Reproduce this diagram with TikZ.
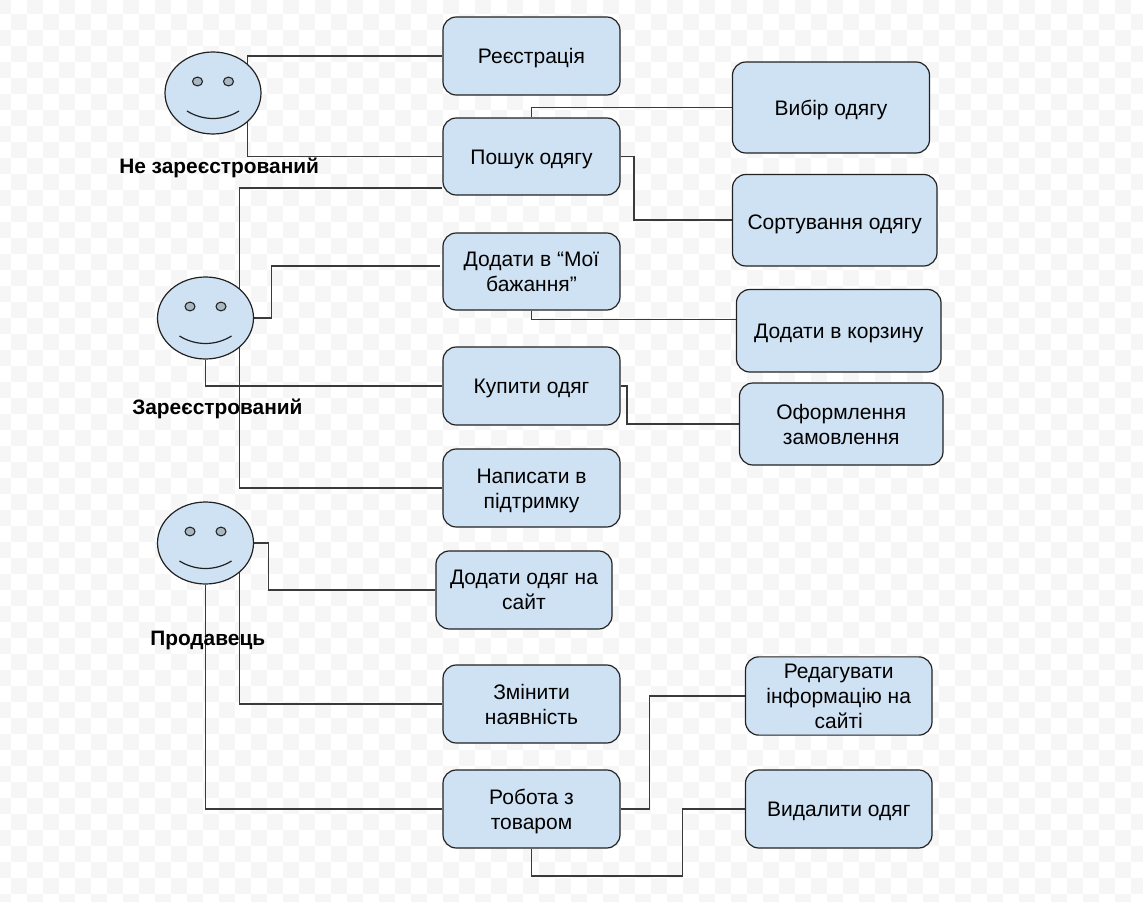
\documentclass[tikz,border=0pt]{standalone}
\usepackage{fontspec}
\setmainfont{Liberation Sans}
\usetikzlibrary{shapes.geometric}
\pgfdeclarelayer{bg}
\pgfsetlayers{bg,main}
\definecolor{boxfill}{HTML}{CFE2F3}
\definecolor{eyefill}{HTML}{A9B7C3}
\definecolor{boxline}{HTML}{222222}
\definecolor{wireline}{HTML}{3A3A3A}
\definecolor{checker}{HTML}{F6F6F6}
\tikzset{
  boxnode/.style={draw=boxline,fill=boxfill,line width=0.9pt,rounded corners=10pt,inner sep=0pt,align=center,font=\fontsize{15.75}{18.6}\selectfont},
  face/.style={draw=boxline,fill=boxfill,line width=0.9pt,ellipse,inner sep=0pt,minimum width=72pt,minimum height=61.5pt},
  eye/.style={draw=boxline,fill=eyefill,line width=0.8pt,ellipse,inner sep=0pt,minimum width=7.5pt,minimum height=6.6pt},
  mouth/.style={draw=boxline,line width=0.9pt},
  wire/.style={draw=wireline,line width=0.9pt},
  rolelabel/.style={inner sep=0pt,font=\fontsize{15.65}{18}\selectfont\bfseries}
}
% #1 = height of the strut that sets the text's vertical position
\newcommand{\boxat}[7][16.5]{%
  \node[boxnode,minimum width={(#5-#3)*0.75pt},minimum height={(#6-#4)*0.75pt}] (#2) at ({(#3+#5)/2},{(#4+#6)/2}) {\rule{0pt}{#1pt}#7\rule[-5pt]{0pt}{0pt}};}
\newcommand{\smiley}[3]{%
  \node[face] (#1) at (#2,#3) {};
  \node[eye] (#1l) at (#2-15.5,#3-11.5) {};
  \node[eye] (#1r) at (#2+15.5,#3-11.5) {};
  \draw[mouth] (#2-26,#3+18) .. controls (#2-10,#3+28) and (#2+10,#3+28) .. (#2+26,#3+18);}
\begin{document}
\begin{tikzpicture}[x=0.75pt,y=-0.75pt]
\useasboundingbox (0,0) rectangle (1143,902);

% role figures
\smiley{fa}{213}{93}
\smiley{fb}{205.5}{318}
\smiley{fc}{205.5}{543}

% boxes
\boxat{reg}{443}{17}{620}{95}{Реєстрація}
\boxat{search}{443}{118}{620}{195}{Пошук одягу}
\boxat[16]{wish}{443}{233}{620}{310}{Додати в “Мої\\бажання”}
\boxat[15.5]{buy}{443}{347}{620}{425}{Купити одяг}
\boxat{support}{443}{449}{620}{527}{Написати в\\підтримку}
\boxat[15.5]{addc}{436}{551}{612}{629}{Додати одяг на\\сайт}
\boxat[17]{avail}{443}{665}{620}{743}{Змінити\\наявність}
\boxat{goods}{443}{770}{620}{848}{Робота з\\товаром}
\boxat{pick}{732.5}{62}{929.5}{153}{Вибір одягу}
\boxat[19]{sort}{732.5}{174.5}{937}{266}{Сортування одягу}
\boxat{cart}{736.5}{289.5}{941}{372}{Додати в корзину}
\boxat[17]{order}{739.5}{383}{943}{465}{Оформлення\\замовлення}
\boxat[16.5]{edit}{745.5}{657}{932}{735}{Редагувати\\інформацію на\\сайті}
\boxat{del}{745.5}{770}{932}{848}{Видалити одяг}

% labels
\node[rolelabel,anchor=west] (la) at (119,168) {Не зареєстрований};
\node[rolelabel,anchor=west] (lb) at (132,409) {Зареєстрований};
\node[rolelabel,anchor=west] (lc) at (150,640.5) {Продавець};

% free wire ends
\coordinate (searchEnd) at (441.5,188);
\coordinate (wishEnd) at (439.5,266);

\begin{pgfonlayer}{bg}
  \begin{scope}
    \clip (0,0) rectangle (1143,902);
    \foreach \i in {0,...,72}{
      \foreach \j in {0,...,57}{
        \pgfmathparse{int(mod(\i+\j,2))}
        \ifnum\pgfmathresult=0
          \fill[checker] ({-5+16*\i},{-2+16*\j}) rectangle ++(16,16);
        \fi
      }
    }
  \end{scope}
  % first role
  \draw[wire] (reg.west) -| (fa.north east);
  \draw[wire] (search.west) -| (fa.south east);
  % second role
  \draw[wire] (searchEnd) -| (fb.north east);
  \draw[wire] (fb.east) -- ++(17.5,0) |- (wishEnd);
  \draw[wire] (fb.south) |- (buy.west);
  \draw[wire] (fb.south east) |- (support.west);
  % third role
  \draw[wire] (fc.east) -- ++(14,0) |- (addc.west);
  \draw[wire] (fc.south east) |- (avail.west);
  \draw[wire] (fc.south) |- (goods.west);
  % box to box
  \draw[wire] (search.north) |- (pick.west |- 0,107.5);
  \draw[wire] (search.east) -- (634,156.5) |- (sort.west |- 0,220);
  \draw[wire] (wish.south) |- (cart.west |- 0,319.5);
  \draw[wire] (buy.east) -- (627,386) |- (order.west |- 0,424);
  \draw[wire] (goods.east) -- (649.5,809) |- (edit.west |- 0,696);
  \draw[wire] (goods.south) -- (531.5,876) -- (682.5,876) |- (del.west);
\end{pgfonlayer}
\end{tikzpicture}
\end{document}
